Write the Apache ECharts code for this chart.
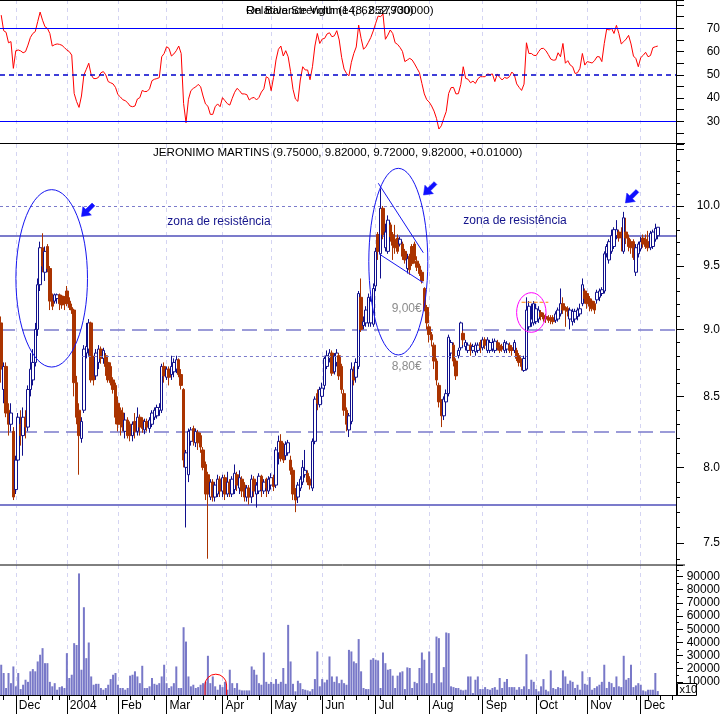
<!DOCTYPE html>
<html><head><meta charset="utf-8">
<script src="https://cdn.jsdelivr.net/npm/echarts@6/dist/echarts.min.js"></script>
<style>html,body{margin:0;padding:0;background:#fff;}#c{width:725px;height:714px;}</style>
</head><body><div id="c"></div>
<script>
// ---------------- DATA ----------------
const startDate = '2003-11-21';
const holidays = ['2003-12-25','2003-12-26','2004-01-01','2004-04-09','2004-04-12'];
const categoryCount = 278;
const monthNames = ['Jan','Feb','Mar','Apr','May','Jun','Jul','Aug','Sep','Oct','Nov','Dec'];
const priceTitle = 'JERONIMO MARTINS (9.75000, 9.82000, 9.72000, 9.82000, +0.01000)';
const rsiTitleA = 'Relative Strength (14, 62.37900)';
const rsiTitleB = 'On Balance Volume (8, 852,730000)';
const priceTickLabels = [7.5, 8.0, 8.5, 9.0, 9.5, 10.0];
const rsiTickLabels = [30, 40, 50, 60, 70];
const volumeTickLabels = [10, 20, 30, 40, 50, 60, 70, 80, 90]; // thousands
const priceLevels = {resistTop: 10.0, resist: 9.75, nine: 9.0, eightEighty: 8.8, support1: 8.25, support2: 7.75};
const rsiLevels = [70, 50, 30];

// candles: [open, close, low, high]
const candles = [
[9.05,8.70,8.60,9.10],[8.55,8.72,8.45,8.75],[8.72,8.38,8.35,8.75],[8.40,8.30,8.22,8.45],[8.30,8.38,8.25,8.45],[8.25,7.80,7.78,8.28],
// Dec 2003
[7.85,8.05,7.82,8.08],[8.05,8.35,8.00,8.38],[8.30,8.22,8.15,8.40],[8.22,8.35,8.08,8.42],[8.35,8.28,8.20,8.40],[8.28,8.55,8.25,8.58],
[8.55,8.70,8.50,8.82],[8.62,8.75,8.58,8.85],[8.75,9.00,8.72,9.05],[9.00,9.35,8.95,9.40],[9.35,9.65,9.30,9.70],[9.65,9.50,9.45,9.77],
[9.45,9.62,9.38,9.66],[9.66,9.48,9.45,9.68],[9.48,9.22,9.15,9.50],[9.25,9.18,9.15,9.28],[9.22,9.27,9.20,9.28],[9.24,9.27,9.20,9.28],
[9.27,9.20,9.15,9.28],[9.26,9.19,9.16,9.27],[9.24,9.20,9.15,9.26],
// Jan 2004
[9.30,9.20,9.18,9.34],[9.22,9.17,9.15,9.25],[9.17,9.15,9.12,9.20],[9.15,8.60,8.50,9.16],[8.60,8.35,8.30,8.65],[8.40,8.22,7.95,8.45],
[8.20,8.32,8.17,8.35],[8.40,8.85,8.38,8.88],[8.82,8.87,8.78,9.05],[8.85,9.05,8.80,9.08],[9.05,8.62,8.60,9.06],[8.78,8.62,8.58,8.80],
[8.65,8.82,8.62,8.85],[8.75,8.85,8.70,8.88],[8.85,8.78,8.74,8.87],[8.78,8.84,8.74,8.86],[8.80,8.72,8.65,8.82],[8.75,8.62,8.60,8.77],
[8.72,8.60,8.58,8.75],[8.62,8.55,8.52,8.64],[8.58,8.35,8.30,8.60],
// Feb
[8.45,8.30,8.25,8.50],[8.40,8.30,8.22,8.42],[8.38,8.28,8.25,8.42],[8.25,8.33,8.20,8.38],[8.33,8.22,8.20,8.35],[8.30,8.22,8.18,8.32],
[8.22,8.30,8.18,8.32],[8.32,8.25,8.20,8.38],[8.25,8.35,8.22,8.42],[8.35,8.28,8.22,8.37],[8.33,8.27,8.24,8.35],[8.26,8.32,8.23,8.34],
[8.32,8.28,8.25,8.34],[8.27,8.33,8.24,8.35],[8.30,8.38,8.28,8.40],[8.35,8.40,8.33,8.42],[8.36,8.42,8.34,8.44],[8.40,8.42,8.36,8.45],
[8.40,8.72,8.38,8.74],[8.72,8.65,8.60,8.75],
// Mar
[8.64,8.70,8.62,8.72],[8.70,8.64,8.58,8.72],[8.66,8.72,8.62,8.80],[8.68,8.75,8.64,8.78],[8.70,8.77,8.67,8.80],[8.77,8.66,8.64,8.78],
[8.66,8.58,8.55,8.70],[8.55,8.05,8.00,8.56],[8.00,8.10,7.60,8.12],[7.95,8.25,7.90,8.27],[8.18,8.26,8.15,8.28],[8.27,8.18,8.15,8.29],
[8.17,8.25,8.14,8.27],[8.24,8.17,8.12,8.26],[8.22,8.14,8.10,8.24],[8.12,8.00,7.98,8.14],[8.02,7.82,7.78,8.04],[7.95,7.82,7.40,7.97],
[7.80,7.90,7.78,7.92],[7.90,7.80,7.77,7.92],[7.80,7.88,7.77,7.90],[7.82,7.92,7.80,7.95],[7.92,7.84,7.80,7.94],
// Apr
[7.84,7.93,7.80,7.95],[7.93,7.82,7.78,7.95],[7.82,7.90,7.80,7.97],[7.90,7.83,7.80,7.92],[7.82,7.92,7.80,7.94],[7.85,7.96,7.82,8.02],
[7.95,7.88,7.84,7.97],[7.86,7.93,7.82,7.98],[7.92,7.84,7.80,7.94],[7.88,7.80,7.77,7.90],[7.80,7.86,7.77,7.88],[7.86,7.80,7.75,7.88],
[7.80,7.92,7.76,7.95],[7.92,7.84,7.80,7.94],[7.82,7.88,7.73,7.90],[7.84,7.94,7.82,7.96],[7.94,7.85,7.80,7.95],[7.84,7.90,7.82,7.92],
[7.92,7.86,7.80,7.93],[7.84,7.92,7.82,7.94],
// May
[7.88,7.93,7.85,7.96],[7.93,7.87,7.84,7.95],[7.88,8.12,7.86,8.14],[8.10,8.18,8.02,8.22],[8.18,8.06,8.04,8.23],[8.15,8.05,8.03,8.17],
[8.08,8.16,8.05,8.18],[8.10,8.17,8.08,8.19],[8.05,7.98,7.95,8.08],[7.98,7.82,7.78,8.00],[7.85,7.78,7.70,7.86],[7.80,7.88,7.76,7.90],
[7.86,7.92,7.84,7.94],[7.90,8.00,7.88,8.05],[7.95,7.98,7.93,8.12],[7.96,7.90,7.88,7.98],[7.92,7.88,7.85,7.94],[7.86,8.18,7.84,8.20],
[8.18,8.48,8.16,8.50],[8.52,8.45,8.40,8.55],[8.44,8.55,8.42,8.57],
// Jun
[8.50,8.56,8.46,8.60],[8.58,8.78,8.55,8.80],[8.72,8.80,8.70,8.84],[8.78,8.82,8.75,8.85],[8.82,8.67,8.65,8.84],[8.68,8.80,8.66,8.82],
[8.75,8.82,8.72,8.85],[8.80,8.65,8.62,8.82],[8.72,8.55,8.52,8.74],[8.52,8.40,8.36,8.55],[8.40,8.30,8.25,8.42],[8.26,8.36,8.21,8.38],
[8.32,8.70,8.30,8.75],[8.68,8.62,8.58,8.72],[8.64,8.75,8.60,8.78],[8.72,9.28,8.70,9.30],[9.25,9.00,8.98,9.40],[9.03,9.06,9.00,9.10],
[9.05,9.15,9.02,9.18],[9.05,9.25,9.02,9.28],[9.05,9.22,9.02,9.26],[9.04,9.32,9.02,9.36],
// Jul
[9.34,9.62,9.30,9.65],[9.76,9.62,9.55,9.78],[9.60,9.98,9.40,10.15],[9.98,9.76,9.72,10.00],[9.65,9.78,9.62,9.85],[9.62,9.88,9.60,9.92],
[9.84,9.74,9.70,9.86],[9.76,9.67,9.55,9.78],[9.72,9.65,9.60,9.84],[9.73,9.62,9.60,9.76],[9.68,9.72,9.66,9.74],[9.68,9.58,9.55,9.70],
[9.62,9.55,9.52,9.64],[9.48,9.56,9.44,9.60],[9.58,9.47,9.43,9.60],[9.66,9.52,9.50,9.68],[9.68,9.55,9.52,9.70],[9.54,9.49,9.46,9.58],
[9.50,9.44,9.42,9.52],[9.45,9.38,9.36,9.47],[9.32,9.16,9.14,9.33],[9.17,9.05,9.00,9.19],
// Aug
[9.02,8.96,8.90,9.04],[8.96,8.92,8.87,8.98],[8.88,8.76,8.70,8.90],[8.76,8.62,8.58,8.78],[8.58,8.46,8.42,8.60],[8.46,8.36,8.28,8.48],
[8.36,8.48,8.33,8.50],[8.46,8.52,8.43,8.55],[8.52,8.94,8.50,8.96],[8.82,8.90,8.78,8.92],[8.88,8.76,8.72,8.90],[8.76,8.65,8.62,8.78],
[8.80,8.84,8.78,8.86],[8.86,9.05,8.84,9.06],[8.97,8.92,8.88,8.99],[8.87,8.90,8.84,8.92],[8.84,8.88,8.82,8.90],[8.88,8.84,8.80,8.90],
[8.84,8.87,8.82,8.89],[8.83,8.88,8.80,8.90],[8.84,8.88,8.82,8.90],[8.90,8.86,8.82,8.92],
// Sep
[8.86,8.92,8.84,8.94],[8.92,8.88,8.85,8.94],[8.84,8.92,8.82,8.94],[8.84,8.90,8.82,8.92],[8.85,8.90,8.83,8.93],[8.84,8.91,8.82,8.93],
[8.90,8.86,8.84,8.92],[8.88,8.84,8.82,8.90],[8.87,8.85,8.83,8.89],[8.84,8.90,8.82,8.92],[8.85,8.89,8.82,8.91],[8.88,8.84,8.82,8.90],
[8.86,8.84,8.80,8.88],[8.84,8.90,8.82,8.92],[8.84,8.78,8.76,8.86],[8.80,8.75,8.72,8.82],[8.76,8.72,8.69,8.78],[8.69,8.78,8.68,8.80],
[8.70,9.15,8.69,9.25],[9.02,9.18,9.00,9.22],[9.05,9.08,9.02,9.20],[9.05,9.20,9.03,9.22],
// Oct
[9.06,9.16,9.04,9.20],[9.08,9.15,9.05,9.18],[9.13,9.10,9.07,9.15],[9.11,9.08,9.06,9.13],[9.10,9.08,9.05,9.12],[9.09,9.07,9.05,9.11],
[9.09,9.07,9.04,9.11],[9.09,9.06,9.04,9.11],[9.07,9.12,9.05,9.14],[9.08,9.15,9.06,9.17],[9.12,9.20,9.10,9.32],[9.20,9.15,9.12,9.25],
[9.17,9.15,9.02,9.18],[9.16,9.14,9.10,9.18],[9.08,9.15,9.00,9.17],[9.06,9.14,9.03,9.16],[9.08,9.14,9.05,9.16],[9.10,9.15,9.07,9.17],
[9.12,9.16,9.10,9.20],[9.20,9.35,9.18,9.40],[9.30,9.24,9.20,9.32],
// Nov
[9.28,9.20,9.16,9.30],[9.24,9.18,9.14,9.26],[9.22,9.16,9.14,9.24],[9.20,9.15,9.12,9.22],[9.23,9.29,9.20,9.31],[9.25,9.30,9.22,9.32],
[9.28,9.31,9.26,9.33],[9.30,9.60,9.28,9.62],[9.60,9.66,9.57,9.68],[9.55,9.70,9.52,9.72],[9.62,9.75,9.60,9.80],[9.66,9.80,9.64,9.82],
[9.75,9.80,9.72,9.88],[9.78,9.73,9.70,9.80],[9.77,9.74,9.62,9.82],[9.62,9.90,9.60,9.95],[9.78,9.73,9.68,9.90],[9.73,9.66,9.62,9.76],
[9.70,9.65,9.60,9.72],[9.70,9.57,9.55,9.72],[9.45,9.65,9.42,9.68],[9.60,9.68,9.57,9.70],
// Dec 2004
[9.64,9.70,9.62,9.74],[9.73,9.68,9.65,9.76],[9.72,9.66,9.64,9.76],[9.70,9.65,9.62,9.79],[9.65,9.77,9.63,9.79],[9.66,9.78,9.64,9.80],
[9.72,9.81,9.70,9.85],[9.75,9.82,9.72,9.82]
];

const rsi = [
75.7,69,68.3,63.8,64.3,52.8,60.4,60.7,60.3,59.5,60,62.8,66.1,67.8,68.6,72.9,77,73.5,70.7,70,
67.8,62.4,63,63.3,63.1,62.7,61.7,60.7,60,58.5,42,38.5,36,40.9,50,52.4,55,50,48.4,48.4,
48.9,50.9,51.4,50,47.1,46.6,46.1,44.6,41.5,40.5,39.3,38.9,38,36.6,36.3,36.6,39.6,40.2,43.3,42.8,
42.9,44,47.5,48.1,48.4,48.8,57.8,59.2,62.1,61.4,58.1,59,60.4,62.4,59.2,37.7,29.4,39.5,43.2,44.2,
44.8,45.9,44.9,40.9,37.5,36.5,33,33,36.3,37.5,36.3,40.2,38.9,37.6,37,39.9,42.5,44.2,43.2,41.8,
41.8,41.5,39.2,40,40.3,39.2,40.3,42.6,44,49.2,48.5,43.2,48.9,56.4,61,62.4,58.1,60.4,57.8,51.4,
43.8,39.6,38.6,47.8,53.5,52.1,52.1,47.9,53.5,62.4,67.8,63.5,65.4,65.7,67.6,68.1,66.4,66.8,69,65,
57.5,52.5,50.6,49.6,55.4,59.2,62,71.4,65.7,61,62.1,64,66.1,68.9,72.2,75.3,75,76.2,65.3,67.1,
69.3,67.8,63.8,63.1,61.8,60.1,55.7,56.4,57.1,56.4,54.7,52.8,50.9,46.3,41.8,39.3,38.3,36.6,34.4,31.3,
26.7,28.1,31.3,34.2,42,44.5,44.6,41.8,41.9,45.9,53.5,48.5,48.1,46.6,47.3,46.3,48.3,49.2,49.2,49.2,
50.4,50.1,50.4,47.1,50.4,48.9,47.8,48.9,48.5,49.2,51.2,50.1,46.1,44.6,43.3,46,63.8,59.2,59.2,58.4,
58.3,60,61.3,61.4,60.4,58.7,56.8,56.3,56.4,59.5,57.8,63.5,55,56.1,54.2,53.5,50.6,50.9,52.8,59.2,
54.2,55.7,55.4,55.1,56.1,57.8,57.8,55.7,63.5,69.7,69.3,70,67.8,71.3,67.8,63.3,64.3,65.4,67,63.3,
58.1,57,53.5,57.4,58.4,59.7,57.8,58.3,61.7,62.1,62.38
];

// volume in thousands of displayed units (axis shows x10)
const volumeK = [
23,16.7,5.3,16.7,9,21.7,6.6,16.7,4.5,7.8,11.6,10,18,19.7,18,25.5,30.6,35.6,24.2,24.2,
10,6.6,9,4,6,6.6,5.3,31.8,12.9,15.4,39.4,38,92.4,19.2,66.7,28,39.9,14.1,7.8,8.5,
8.5,5.3,4,5.3,7.8,12.1,15.4,16.7,7.8,5.3,5.3,4,5.3,14.7,15.4,18,14.1,9,22.2,5.3,
5.3,6.6,12.9,8.5,7.8,9,14.1,23,9,5.3,6.6,9,21.7,5.3,5.3,51.5,40.6,14.1,6.6,7.8,
5.3,6,7.8,9,10,29.8,9,14.1,6.6,4,7.8,6,10,4,19.2,9,5.3,9,4,3.5,
3.5,3.5,3.5,21.7,19.2,15.4,9,7.8,32.3,10,8.5,10,8.5,12.1,8.5,10,20.5,8.5,53.3,25.5,
8.5,2.8,10.8,9,4.5,4,3.5,2.8,4.5,12.1,33.1,6.6,12.1,9.6,11.6,29.3,14.1,10,14.1,9,
11.6,9,7.8,34.3,33.1,25.5,24.2,42.5,18,5.3,4.5,4.5,26.8,28,26.8,26.3,5.3,32.3,24.2,19.2,
19.7,14.7,5.3,14.7,17.2,18,4.5,21,20.5,5.3,10,9,20.5,32.3,26.8,9,33.1,16.7,9,44.4,
43.2,9.6,21.2,47.5,47,6.6,6,5.3,5.3,4,3.5,4,14.1,14.1,1.5,11.6,14.1,4.5,4.5,6,
4.5,4,5.3,6,4,12.9,5.3,10,12.1,6,6,6,4,6,4.5,6.6,31,4.5,11.6,10,
4.5,2.8,6.6,12.1,4,2.8,18.7,5.3,4.5,6,5.3,18.7,14.1,8.5,11,10,5.3,7.8,4,18,
8.5,7.8,13.6,4,5.3,6.6,7.8,10,23,5.3,10,9,6,14.1,6.6,6,29.8,11.6,12.9,23,
6,7.3,9,7.8,3.5,2.8,4,4,4,16.7,3
];

// ---------------- AXIS CATEGORIES (trading days) ----------------
function buildDates() {
  const out = [];
  const p = startDate.split('-').map(Number);
  const d = new Date(Date.UTC(p[0], p[1] - 1, p[2]));
  while (out.length < categoryCount) {
    const wd = d.getUTCDay();
    const s = d.toISOString().slice(0, 10);
    if (wd !== 0 && wd !== 6 && holidays.indexOf(s) < 0) out.push(s);
    d.setUTCDate(d.getUTCDate() + 1);
  }
  return out;
}
const dates = buildDates();
const dObj = dates.map(s => { const p = s.split('-').map(Number); return new Date(Date.UTC(p[0], p[1]-1, p[2])); });
const isMonthStart = i => i > 0 && dObj[i].getUTCMonth() !== dObj[i-1].getUTCMonth();
const isWeekStart = i => i > 0 && (dObj[i].getUTCDay() < dObj[i-1].getUTCDay() || (dObj[i]-dObj[i-1]) >= 7*864e5);
const monthLabel = s => { const m = Number(s.slice(5,7)) - 1; return m === 0 ? s.slice(0,4) : monthNames[m]; };

// ---------------- CHART ----------------
const FONT = "'Liberation Sans', Arial, sans-serif";
const GRID_W = 676;
const UP = '#10108c', DOWN = '#aa3300', LAV = '#7b7bcb', GRIDV = '#d4d4f2';
const chart = echarts.init(document.getElementById('c'), null, {renderer: 'canvas'});

const monthSplit = { show: true, interval: (i) => isMonthStart(i), alignWithLabel: true, lineStyle: { color: GRIDV, type: [4, 4], width: 1 } };
const hiddenX = (gi) => ({ gridIndex: gi, type: 'category', data: dates, boundaryGap: true,
  axisLine: { show: false }, axisTick: { show: false }, axisLabel: { show: false }, splitLine: monthSplit });

const option = {
  animation: false,
  backgroundColor: '#fff',
  grid: [
    { left: 0, top: 0, width: GRID_W, height: 144.6 },
    { left: 0, top: 144, width: GRID_W, height: 421 },
    { left: 0, top: 565, width: GRID_W, height: 130 }
  ],
  xAxis: [
    hiddenX(0),
    hiddenX(1),
    Object.assign(hiddenX(2), {
      position: 'bottom',
      axisLine: { show: true, lineStyle: { color: '#000', width: 1 } },
      axisTick: { show: true, alignWithLabel: true, length: 5, interval: (i) => isWeekStart(i), lineStyle: { color: '#000' } }
    }),
    { gridIndex: 2, type: 'category', data: dates, boundaryGap: true, position: 'bottom',
      axisLine: { show: false },
      axisTick: { show: true, alignWithLabel: true, length: 19, interval: (i) => isMonthStart(i), lineStyle: { color: '#000' } },
      axisLabel: { show: true, interval: (i) => isMonthStart(i), formatter: (v) => monthLabel(v),
        align: 'left', margin: 5, padding: [0, 0, 0, 3], color: '#000', fontSize: 12, fontFamily: FONT },
      splitLine: { show: false } }
  ],
  yAxis: [
    { gridIndex: 0, type: 'value', position: 'right', min: 20, max: 82.2, interval: 5,
      axisLine: { show: true, lineStyle: { color: '#000' } },
      axisTick: { show: true, length: 8, lineStyle: { color: '#000' } },
      axisLabel: { show: true, formatter: (v) => rsiTickLabels.indexOf(v) >= 0 ? String(v) : '',
        align: 'right', margin: 44, color: '#000', fontSize: 12, fontFamily: FONT },
      splitLine: { show: false } },
    { gridIndex: 1, type: 'log', logBase: 10, position: 'right', min: 7.3604, max: 10.5434,
      axisLine: { show: true, lineStyle: { color: '#000' } },
      axisTick: { show: false }, axisLabel: { show: false }, splitLine: { show: false } },
    { gridIndex: 2, type: 'value', position: 'right', min: 0, max: 98.8, interval: 5,
      axisLine: { show: true, lineStyle: { color: '#000' } },
      axisTick: { show: true, length: 3, lineStyle: { color: '#000' } },
      axisLabel: { show: false }, splitLine: { show: false } },
    { gridIndex: 2, type: 'value', position: 'right', min: 0, max: 98.8, interval: 10,
      axisLine: { show: false },
      axisTick: { show: true, length: 7, lineStyle: { color: '#000' } },
      axisLabel: { show: true, formatter: (v) => volumeTickLabels.indexOf(v) >= 0 ? String(v * 1000) : '',
        align: 'right', margin: 44, color: '#000', fontSize: 12, fontFamily: FONT },
      splitLine: { show: false } }
  ],
  series: [
    { type: 'line', xAxisIndex: 0, yAxisIndex: 0, data: rsi, showSymbol: false, symbol: 'none',
      lineStyle: { color: '#ff0000', width: 1 }, z: 3,
      markLine: { silent: true, symbol: 'none', label: { show: false },
        data: [
          { yAxis: rsiLevels[0], lineStyle: { color: '#0000ff', width: 1.2, type: 'solid' } },
          { yAxis: rsiLevels[1], lineStyle: { color: '#0000cc', width: 1.5, type: [5, 4] } },
          { yAxis: rsiLevels[2], lineStyle: { color: '#0000ff', width: 1.2, type: 'solid' } }
        ] } },
    { type: 'candlestick', xAxisIndex: 1, yAxisIndex: 1, data: candles, barWidth: 3,
      itemStyle: { color: '#ffffff', color0: DOWN, borderColor: UP, borderColor0: DOWN, borderWidth: 1 },
      markLine: { silent: true, symbol: 'none', label: { show: false }, z: 1,
        data: [
          { yAxis: priceLevels.resistTop, lineStyle: { color: LAV, width: 1, type: [3, 3] } },
          { yAxis: priceLevels.resist, lineStyle: { color: LAV, width: 2.2, type: 'solid' } },
          { yAxis: priceLevels.nine, lineStyle: { color: LAV, width: 1.5, type: [15, 7] } },
          { yAxis: priceLevels.support1, lineStyle: { color: LAV, width: 1.5, type: [15, 7] } },
          { yAxis: priceLevels.support2, lineStyle: { color: LAV, width: 2.2, type: 'solid' } }
        ] } },
    { type: 'bar', xAxisIndex: 2, yAxisIndex: 2, data: volumeK, barWidth: 2,
      itemStyle: { color: '#7878c8' } }
  ]
};
chart.setOption(option);

// ---------------- ANNOTATIONS through the library's scales ----------------
function px(gi, idx, val) {
  const i0 = Math.floor(idx), f = idx - i0;
  const a = chart.convertToPixel({ xAxisIndex: gi, yAxisIndex: gi }, [i0, val]);
  const b = chart.convertToPixel({ xAxisIndex: gi, yAxisIndex: gi }, [i0 + 1, val]);
  return [a[0] + (b[0] - a[0]) * f, a[1]];
}
const g = [];
const Z = 100;
// frame lines
g.push({ type: 'line', z: Z, shape: { x1: 0, y1: 0.5, x2: 677, y2: 0.5 }, style: { stroke: '#000', lineWidth: 1 } });
g.push({ type: 'line', z: Z, shape: { x1: 0, y1: 143.5, x2: 685, y2: 143.5 }, style: { stroke: '#000', lineWidth: 1 } });
g.push({ type: 'line', z: Z, shape: { x1: 0, y1: 565, x2: 685, y2: 565 }, style: { stroke: '#000', lineWidth: 1 } });
// price axis ticks and labels (log scale)
for (let k = 74; k <= 105; k++) {
  const p = k / 10;
  const y = Math.round(chart.convertToPixel({ yAxisIndex: 1 }, p)) + 0.5;
  const major = k % 5 === 0;
  g.push({ type: 'line', z: Z, shape: { x1: 676, y1: y, x2: major ? 684 : 680, y2: y }, style: { stroke: '#000', lineWidth: 1 } });
}
priceTickLabels.forEach(p => {
  const y = chart.convertToPixel({ yAxisIndex: 1 }, p);
  g.push({ type: 'text', z: Z, x: 720, y: y, style: { text: p.toFixed(1), fill: '#000', font: '12px ' + FONT, textAlign: 'right', textVerticalAlign: 'middle' } });
});
// titles
g.push({ type: 'text', z: Z, x: 153, y: 152.5, style: { text: priceTitle, fill: '#000', font: '11.6px ' + FONT, textAlign: 'left', textVerticalAlign: 'middle' } });
g.push({ type: 'text', z: Z, x: 246, y: 11, style: { text: rsiTitleA, fill: '#000', font: '11.6px ' + FONT, textAlign: 'left', textVerticalAlign: 'middle' } });
g.push({ type: 'text', z: Z, x: 246, y: 11, style: { text: rsiTitleB, fill: '#000', font: '11.6px ' + FONT, textAlign: 'left', textVerticalAlign: 'middle' } });
// 8.80 partial dotted line and orange dashed line
(function () {
  const a = px(1, 33.2, priceLevels.eightEighty), b = px(1, 216.2, priceLevels.eightEighty);
  g.push({ type: 'line', z: 5, shape: { x1: a[0], y1: Math.round(a[1]) + 0.5, x2: b[0], y2: Math.round(a[1]) + 0.5 }, style: { stroke: LAV, lineWidth: 1, lineDash: [3, 3] } });
  const c = px(1, 214.0, 9.211), d = px(1, 225.0, 9.211);
  g.push({ type: 'line', z: Z, shape: { x1: c[0], y1: c[1], x2: d[0], y2: c[1] }, style: { stroke: '#ff8000', lineWidth: 1, lineDash: [4, 2] } });
})();
// wedge lines
[[[155.07, 10.196], [173.58, 9.609]], [[155.48, 9.598], [173.58, 9.366]]].forEach(seg => {
  const a = px(1, seg[0][0], seg[0][1]), b = px(1, seg[1][0], seg[1][1]);
  g.push({ type: 'line', z: Z, shape: { x1: a[0], y1: a[1], x2: b[0], y2: b[1] }, style: { stroke: '#1515f0', lineWidth: 1 } });
});
// ellipses
[[20.76, 9.401, 35.8, 88.7, '#1515f0'], [163.3, 9.536, 29.5, 93.3, '#1515f0'], [218.0, 9.131, 14.7, 19.8, '#ff00ff']].forEach(e => {
  const c = px(1, e[0], e[1]);
  g.push({ type: 'ellipse', z: Z, shape: { cx: c[0], cy: c[1], rx: e[2], ry: e[3] }, style: { fill: 'none', stroke: e[4], lineWidth: 1 } });
});
// arrows (tip at data point, pointing down-left)
const arrowShape = [[0,0],[1.4,-9.9],[4.2,-7.1],[10.6,-13.4],[13.4,-10.6],[7.1,-4.2],[9.9,-1.4]];
[[33.0, 9.911], [173.66, 10.094], [256.7, 10.026]].forEach(t => {
  const c = px(1, t[0], t[1]);
  g.push({ type: 'polygon', z: Z, shape: { points: arrowShape.map(p => [c[0] + p[0], c[1] + p[1]]) }, style: { fill: '#1010ff', stroke: '#1010ff', lineWidth: 0.5 } });
});
// texts
[[89.56, 9.869, 'zona de resistência', '#14148c'], [211.3, 9.873, 'zona de resistência', '#14148c'],
 [166.75, 9.164, '9,00€', '#8c8c8c'], [166.75, 8.718, '8,80€', '#8c8c8c']].forEach(t => {
  const c = px(1, t[0], t[1]);
  g.push({ type: 'text', z: Z, x: c[0], y: c[1], style: { text: t[2], fill: t[3], font: '12px ' + FONT, textAlign: 'center', textVerticalAlign: 'middle' } });
});
// red arch in volume panel
(function () {
  const c = px(2, 88.24, 0);
  const r = 10.8, cy = c[1] - 10;
  g.push({ type: 'arc', z: Z, shape: { cx: c[0], cy: cy, r: r, startAngle: Math.PI, endAngle: 2 * Math.PI, clockwise: true }, style: { stroke: '#ff0000', fill: 'none', lineWidth: 1 } });
  g.push({ type: 'line', z: Z, shape: { x1: c[0] - r, y1: cy, x2: c[0] - r, y2: c[1] }, style: { stroke: '#ff0000', lineWidth: 1 } });
  g.push({ type: 'line', z: Z, shape: { x1: c[0] + r, y1: cy, x2: c[0] + r, y2: c[1] }, style: { stroke: '#ff0000', lineWidth: 1 } });
})();
// x10 box
g.push({ type: 'rect', z: Z, shape: { x: 677.5, y: 683.5, width: 19, height: 12 }, style: { fill: '#fff', stroke: '#000', lineWidth: 1 } });
g.push({ type: 'text', z: Z + 1, x: 679.5, y: 689.5, style: { text: 'x10', fill: '#000', font: '11px ' + FONT, textAlign: 'left', textVerticalAlign: 'middle' } });

chart.setOption({ graphic: { elements: g } });
</script>
</body></html>
